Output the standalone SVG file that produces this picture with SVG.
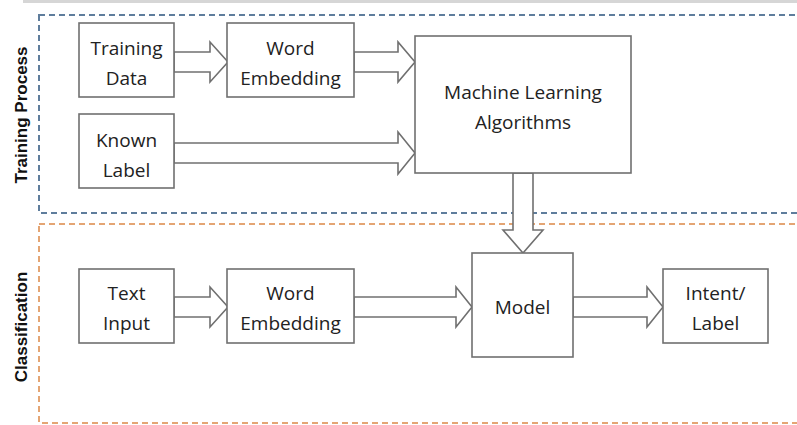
<svg xmlns="http://www.w3.org/2000/svg" width="797" height="425" viewBox="0 0 797 425">
<style>
.box{fill:#fff;stroke:#707070;stroke-width:1.6}
.arr{fill:#fff;stroke:#707070;stroke-width:1.6;stroke-linejoin:miter}
.t{font-family:"Open Sans","Liberation Sans",sans-serif;font-size:19px;fill:#222;text-anchor:middle}
.lab{font-family:"Liberation Sans",Arial,sans-serif;font-size:17px;font-weight:bold;fill:#111;text-anchor:middle}
.blue{fill:none;stroke:#5f7d9c;stroke-width:2;stroke-dasharray:6 4}
.orange{fill:none;stroke:#e4a574;stroke-width:2;stroke-dasharray:6 4}
</style>
<rect x="0" y="0" width="797" height="425" fill="#fff"/>
<rect x="23" y="0" width="774" height="3" fill="#d6d6d6"/>
<g id="training-region">
<rect class="blue" x="39" y="15" width="770" height="198"/>
<text class="lab" transform="translate(27,115) rotate(-90)">Training Process</text>
</g>
<g id="classification-region">
<rect class="orange" x="39" y="224" width="770" height="199"/>
<text class="lab" transform="translate(27,327) rotate(-90)">Classification</text>
</g>
<g id="connectors">
<polygon class="arr" points="174,52 210,52 210,42 228,62 210,82 210,72 174,72"/>
<polygon class="arr" points="354,52 398,52 398,42 415,62 398,82 398,72 354,72"/>
<polygon class="arr" points="174,143 398,143 398,132 415,153 398,174 398,163 174,163"/>
<polygon class="arr" points="513,173 513,230 503,230 523,253 543,230 533,230 533,173"/>
<polygon class="arr" points="174,297 210,297 210,287 228,307 210,327 210,317 174,317"/>
<polygon class="arr" points="354,297 456,297 456,287 472,307 456,327 456,317 354,317"/>
<polygon class="arr" points="573,297 647,297 647,287 663,307 647,327 647,317 573,317"/>
</g>
<g id="training-data">
<rect class="box" x="79" y="23" width="95" height="74"/>
<text class="t" x="126.5" y="55">Training</text>
<text class="t" x="126.5" y="85">Data</text>
</g>
<g id="word-embedding-1">
<rect class="box" x="227" y="23" width="127" height="74"/>
<text class="t" x="290.5" y="55">Word</text>
<text class="t" x="290.5" y="85">Embedding</text>
</g>
<g id="known-label">
<rect class="box" x="79" y="114" width="95" height="74"/>
<text class="t" x="126.5" y="147">Known</text>
<text class="t" x="126.5" y="177">Label</text>
</g>
<g id="ml-algorithms">
<rect class="box" x="415" y="36" width="216" height="137"/>
<text class="t" x="523" y="99">Machine Learning</text>
<text class="t" x="523" y="129">Algorithms</text>
</g>
<g id="text-input">
<rect class="box" x="79" y="269" width="95" height="74"/>
<text class="t" x="126.5" y="300">Text</text>
<text class="t" x="126.5" y="330">Input</text>
</g>
<g id="word-embedding-2">
<rect class="box" x="227" y="269" width="127" height="74"/>
<text class="t" x="290.5" y="300">Word</text>
<text class="t" x="290.5" y="330">Embedding</text>
</g>
<g id="model">
<rect class="box" x="472" y="253" width="101" height="104"/>
<text class="t" x="522.5" y="314">Model</text>
</g>
<g id="intent-label">
<rect class="box" x="663" y="269" width="105" height="74"/>
<text class="t" x="715.5" y="300">Intent/</text>
<text class="t" x="715.5" y="330">Label</text>
</g>
</svg>
